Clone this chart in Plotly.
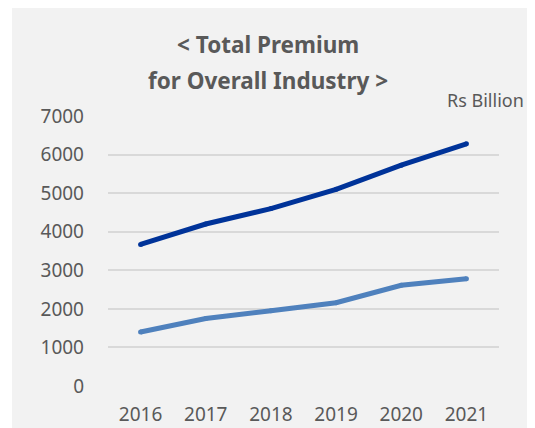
import plotly.graph_objects as go

years = ["2016", "2017", "2018", "2019", "2020", "2021"]
total_premium = [3670, 4200, 4600, 5100, 5725, 6280]
second_series = [1400, 1750, 1950, 2160, 2610, 2780]
y_ticks = [0, 1000, 2000, 3000, 4000, 5000, 6000, 7000]

# page has an 8px body margin; figure coordinates = page coordinates - 8
W, H = 527, 420
L, R, T, B = 100, 36, 108, 42
pw = W - L - R
ph = H - T - B

fig = go.Figure()
fig.add_trace(go.Scatter(x=years, y=total_premium, mode="lines+markers",
                         line=dict(color="#003399", width=5),
                         marker=dict(color="#003399", size=5, line=dict(width=0)),
                         showlegend=False))
fig.add_trace(go.Scatter(x=years, y=second_series, mode="lines+markers",
                         line=dict(color="#4F81BD", width=5),
                         marker=dict(color="#4F81BD", size=5, line=dict(width=0)),
                         showlegend=False))

font = "Noto Sans, Open Sans, sans-serif"
grey = "#595959"

fig.update_layout(
    width=W, height=H,
    margin=dict(l=L, r=R, t=T, b=B, autoexpand=False),
    paper_bgcolor="#F2F2F2",
    plot_bgcolor="#F2F2F2",
    font=dict(family=font, color=grey, size=19),
    xaxis=dict(type="category", range=[-0.5, 5.5], showgrid=False, zeroline=False,
               showline=False, ticks="", ticklabelstandoff=15, automargin=False,
               tickfont=dict(size=19, color=grey)),
    yaxis=dict(range=[0, 7000], tickvals=y_ticks, showgrid=True, gridcolor="#D9D9D9",
               gridwidth=1.5, zeroline=False, showline=False, ticks="", automargin=False,
               ticklabelstandoff=23, tickfont=dict(size=19, color=grey)),
    shapes=[dict(type="rect", xref="paper", yref="paper", layer="below",
                 x0=-L / pw, x1=(4 - L) / pw,
                 y0=-B / ph, y1=(H - B) / ph,
                 fillcolor="white", line=dict(width=0))],
    annotations=[
        dict(text="<b>&lt; Total Premium</b>", xref="paper", yref="paper",
             x=(260 - L) / pw, y=(H - B - 37) / ph, xanchor="center", yanchor="middle",
             showarrow=False, font=dict(size=22.5, color=grey, family=font)),
        dict(text="<b>for Overall Industry &gt;</b>", xref="paper", yref="paper",
             x=(260 - L) / pw, y=(H - B - 72) / ph, xanchor="center", yanchor="middle",
             showarrow=False, font=dict(size=22.5, color=grey, family=font)),
        dict(text="Rs Billion", xref="paper", yref="paper",
             x=(518 - L) / pw, y=(H - B - 92) / ph, xanchor="right", yanchor="middle",
             showarrow=False, font=dict(size=18, color=grey, family=font)),
    ],
)

fig.write_html("out.html")
